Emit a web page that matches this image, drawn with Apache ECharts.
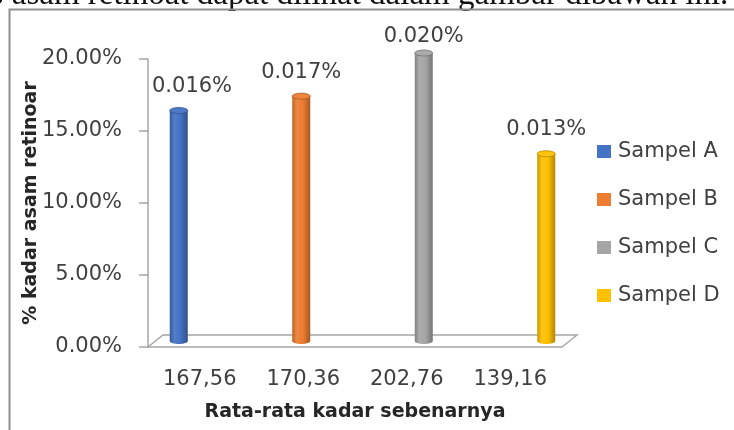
<!DOCTYPE html>
<html>
<head>
<meta charset="utf-8">
<script src="https://cdn.jsdelivr.net/npm/echarts@6/dist/echarts.min.js"></script>
<style>
  html, body { margin: 0; padding: 0; background: #ffffff; }
  #chart { width: 734px; height: 430px; }
</style>
</head>
<body>
<div id="chart"></div>
<script>
// Data
const categories = ['167,56', '170,36', '202,76', '139,16'];
const sampleNames = ['Sampel A', 'Sampel B', 'Sampel C', 'Sampel D'];
const kadar = [0.016, 0.017, 0.020, 0.013];
const yTickLabels = ['0.00%', '5.00%', '10.00%', '15.00%', '20.00%'];
const Y_MAX = 0.02;
const Y_STEP = 0.005;

// Styling / layout
const palette = ['#4472C4', '#ED7D31', '#A5A5A5', '#FFC000'];
const FONT = '"DejaVu Sans", sans-serif';
const TEXT_COLOR = '#404040';
const AXIS_COLOR = '#A6A6A6';
const GRID = { left: 148, top: 59, width: 414, height: 288 };
const DEPTH_X = 15, DEPTH_Y = 12;         // floor depth of the 3-D plot
const BAR_W = 18, SLOT = 19, CAP_RY = 3;  // cylinder size and cluster slot
const TEXT_SIZE = 21;
const LABEL_MIN_LEFT = GRID.left + 4;
const LABEL_MIN_CENTER_Y = 37;

function mix(hex, target, t) {
  const a = parseInt(hex.slice(1), 16);
  const b = parseInt(target.slice(1), 16);
  const ch = (v, s) => (v >> s) & 255;
  const r = Math.round(ch(a, 16) + (ch(b, 16) - ch(a, 16)) * t);
  const g = Math.round(ch(a, 8) + (ch(b, 8) - ch(a, 8)) * t);
  const bl = Math.round(ch(a, 0) + (ch(b, 0) - ch(a, 0)) * t);
  return 'rgb(' + r + ',' + g + ',' + bl + ')';
}

const measureCtx = document.createElement('canvas').getContext('2d');
function textWidth(str) {
  measureCtx.font = TEXT_SIZE + 'px ' + FONT;
  return measureCtx.measureText(str).width;
}

function cylinder(params, api) {
  const color = palette[params.seriesIndex];
  const cat = api.value(0);
  const val = api.value(1);
  const base = api.coord([cat, 0]);
  const top = api.coord([cat, val]);
  const cx = base[0] + (params.seriesIndex - 1.5) * SLOT;
  const rx = BAR_W / 2;
  const body = new echarts.graphic.LinearGradient(0, 0, 1, 0, [
    { offset: 0, color: mix(color, '#000000', 0.22) },
    { offset: 0.25, color: mix(color, '#ffffff', 0.08) },
    { offset: 0.6, color: color },
    { offset: 1, color: mix(color, '#000000', 0.3) }
  ]);
  const text = val.toFixed(3) + '%';
  const w = textWidth(text);
  const lx = Math.max(cx, LABEL_MIN_LEFT + w / 2);
  const ly = Math.max(top[1] - 24, LABEL_MIN_CENTER_Y);
  return {
    type: 'group',
    children: [
      { type: 'ellipse', shape: { cx: cx, cy: base[1], rx: rx, ry: CAP_RY }, style: { fill: body } },
      { type: 'rect', shape: { x: cx - rx, y: top[1], width: BAR_W, height: base[1] - top[1] }, style: { fill: body } },
      { type: 'ellipse', shape: { cx: cx, cy: top[1], rx: rx, ry: CAP_RY },
        style: { fill: mix(color, '#ffffff', 0.05), stroke: mix(color, '#000000', 0.3), lineWidth: 0.8 } },
      { type: 'text', x: lx, y: ly,
        style: { text: text, fill: TEXT_COLOR, fontSize: TEXT_SIZE, fontFamily: FONT, align: 'center', verticalAlign: 'middle' } }
    ]
  };
}

const chart = echarts.init(document.getElementById('chart'), null, { renderer: 'canvas' });

const front = { x0: GRID.left, x1: GRID.left + GRID.width, y: GRID.top + GRID.height };

chart.setOption({
  backgroundColor: '#ffffff',
  animation: false,
  color: palette,
  textStyle: { fontFamily: FONT },
  graphic: [
    {
      type: 'text', left: -24, top: -21,
      style: { text: '% asam retinoat dapat dilihat dalam gambar dibawah ini.', fill: '#111111',
               fontSize: 33, fontFamily: '"Liberation Serif", serif' }
    },
    {
      type: 'rect', shape: { x: 9.5, y: 9.5, width: 800, height: 500 },
      style: { fill: null, stroke: '#8f8f8f', lineWidth: 2 }, silent: true
    },
    {
      type: 'polyline', silent: true,
      shape: { points: [
        [front.x0, front.y], [front.x0 + DEPTH_X, front.y - DEPTH_Y],
        [front.x1 + DEPTH_X, front.y - DEPTH_Y], [front.x1, front.y]
      ] },
      style: { stroke: AXIS_COLOR, lineWidth: 1.5, fill: null }
    }
  ],
  grid: [
    { left: GRID.left, top: GRID.top, width: GRID.width, height: GRID.height },
    { left: GRID.left + DEPTH_X / 2, top: GRID.top - DEPTH_Y / 2, width: GRID.width, height: GRID.height }
  ],
  legend: {
    data: sampleNames, orient: 'vertical', left: 592, top: 136,
    icon: 'rect', itemWidth: 14, itemHeight: 13, itemGap: 27,
    textStyle: { color: TEXT_COLOR, fontSize: TEXT_SIZE, fontFamily: FONT, lineHeight: 21, padding: [0, 0, 0, 2] }
  },
  xAxis: [
    {
      type: 'category', gridIndex: 0, data: categories,
      axisLine: { lineStyle: { color: AXIS_COLOR, width: 1.5 } },
      axisTick: { length: 8, lineStyle: { color: AXIS_COLOR, width: 1.5 } },
      axisLabel: { color: TEXT_COLOR, fontSize: TEXT_SIZE, margin: 22 },
      name: 'Rata-rata kadar sebenarnya', nameLocation: 'middle', nameGap: 56, nameMoveOverlap: false,
      nameTextStyle: { color: '#262626', fontSize: 19, fontWeight: 'bold', fontFamily: FONT }
    },
    { type: 'category', gridIndex: 1, data: categories, show: false }
  ],
  yAxis: [
    {
      type: 'value', gridIndex: 0, min: 0, max: Y_MAX, interval: Y_STEP,
      axisLine: { show: true, lineStyle: { color: AXIS_COLOR, width: 1.5 } },
      axisTick: { show: true, length: 9, lineStyle: { color: AXIS_COLOR, width: 1.5 } },
      splitLine: { show: false },
      axisLabel: {
        color: TEXT_COLOR, fontSize: TEXT_SIZE, margin: 26, padding: [6, 0, 0, 0],
        formatter: v => yTickLabels[Math.round(v / Y_STEP)]
      },
      name: '% kadar asam retinoar', nameLocation: 'middle', nameRotate: 90, nameGap: 107, nameMoveOverlap: false,
      nameTextStyle: { color: '#262626', fontSize: 19, fontWeight: 'bold', fontFamily: FONT }
    },
    { type: 'value', gridIndex: 1, min: 0, max: Y_MAX, interval: Y_STEP, show: false, splitLine: { show: false } }
  ],
  series: sampleNames.map((name, i) => ({
    name: name,
    type: 'custom',
    xAxisIndex: 1,
    yAxisIndex: 1,
    itemStyle: { color: palette[i] },
    encode: { x: 0, y: 1 },
    clip: false,
    renderItem: cylinder,
    data: [[i, kadar[i]]]
  }))
});
</script>
</body>
</html>
